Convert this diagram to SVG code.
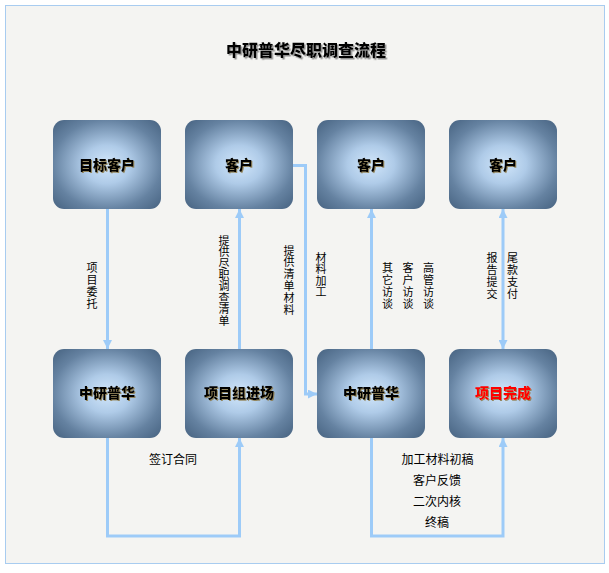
<svg xmlns="http://www.w3.org/2000/svg" width="609" height="573" viewBox="0 0 609 573">
<style>
.nd{fill:url(#g);}
.nl{font-family:"Noto Sans CJK SC","Noto Sans",sans-serif;font-size:14px;font-weight:900;text-anchor:middle;fill:#000;filter:url(#sh);}
.lb{font-family:"Noto Sans CJK SC","Noto Sans",sans-serif;font-size:12px;text-anchor:middle;fill:#000;}
.vl{font-family:"Noto Sans CJK SC","Noto Sans",sans-serif;font-size:11px;fill:#000;writing-mode:vertical-rl;letter-spacing:1px;}
.cn{fill:none;stroke:#9DCBF8;stroke-width:3;}
.title{font-family:"Noto Sans CJK SC","Noto Sans",sans-serif;font-size:16px;font-weight:900;text-anchor:middle;fill:#000;filter:url(#tsh);}
</style>
<defs>
<radialGradient id="g" cx="0.5" cy="0.5" r="0.72">
<stop offset="0" stop-color="#D2E7FB"/>
<stop offset="0.3" stop-color="#AFCBE8"/>
<stop offset="0.7" stop-color="#6582A1"/>
<stop offset="1" stop-color="#44607E"/>
</radialGradient>
<filter id="sh" x="-10%" y="-20%" width="130%" height="150%">
<feDropShadow dx="1" dy="1" stdDeviation="0.3" flood-color="#8a7440" flood-opacity="0.8"/>
</filter>
<filter id="tsh" x="-10%" y="-20%" width="130%" height="150%">
<feDropShadow dx="1.5" dy="1.5" stdDeviation="0.5" flood-color="#666" flood-opacity="0.7"/>
</filter>
<marker id="ah" viewBox="0 0 10 10" refX="10" refY="5" markerWidth="3" markerHeight="3" orient="auto-start-reverse" markerUnits="strokeWidth">
<path d="M0,0 L10,5 L0,10 z" fill="#9DCBF8"/>
</marker>
</defs>
<rect x="0" y="0" width="609" height="573" fill="#fff"/>
<rect x="5.5" y="5.5" width="599" height="558" fill="#F4F4F2" stroke="#A8CCF0" stroke-width="1"/>
<text class="title" x="306" y="56">中研普华尽职调查流程</text>

<g id="connectors">
<path class="cn" d="M107.5,209 V349" marker-end="url(#ah)"/>
<path class="cn" d="M239.5,349 V209" marker-end="url(#ah)"/>
<path class="cn" d="M293,165.5 H305.5 V394 H317" marker-end="url(#ah)"/>
<path class="cn" d="M371.5,349 V209" marker-end="url(#ah)"/>
<path class="cn" d="M503,209 V349" marker-start="url(#ah)" marker-end="url(#ah)"/>
<path class="cn" d="M107.5,438 V536 H239.5 V438" marker-end="url(#ah)"/>
<path class="cn" d="M371.5,438 V536 H503 V438" marker-end="url(#ah)"/>
<text class="vl" x="92" y="262">项目委托</text>
<text class="vl" x="224" y="235" style="letter-spacing:0.45px">提供尽职调查清单</text>
<text class="vl" x="289" y="245" style="letter-spacing:0.8px">提供清单材料</text>
<text class="vl" x="321" y="252" style="letter-spacing:0.5px">材料加工</text>
<text class="vl" x="387.5" y="262">其它访谈</text>
<text class="vl" x="408" y="262">客户访谈</text>
<text class="vl" x="428.5" y="262">高管访谈</text>
<text class="vl" x="492" y="252">报告提交</text>
<text class="vl" x="512.5" y="252">尾款支付</text>
<text class="lb" x="173" y="464">签订合同</text>
<text class="lb" x="437.5" y="463.5">加工材料初稿</text>
<text class="lb" x="437" y="485">客户反馈</text>
<text class="lb" x="437" y="506">二次内核</text>
<text class="lb" x="437" y="526.5">终稿</text>
</g>

<g id="n1"><rect class="nd" x="53" y="120" width="108" height="89" rx="11"/><text class="nl" x="107" y="169.5">目标客户</text></g>
<g id="n2"><rect class="nd" x="185" y="120" width="108" height="89" rx="11"/><text class="nl" x="239" y="169.5">客户</text></g>
<g id="n3"><rect class="nd" x="317" y="120" width="108" height="89" rx="11"/><text class="nl" x="371" y="169.5">客户</text></g>
<g id="n4"><rect class="nd" x="449" y="120" width="108" height="89" rx="11"/><text class="nl" x="503" y="169.5">客户</text></g>
<g id="n5"><rect class="nd" x="53" y="349" width="108" height="89" rx="11"/><text class="nl" x="107" y="397.5">中研普华</text></g>
<g id="n6"><rect class="nd" x="185" y="349" width="108" height="89" rx="11"/><text class="nl" x="239" y="397.5">项目组进场</text></g>
<g id="n7"><rect class="nd" x="317" y="349" width="108" height="89" rx="11"/><text class="nl" x="371" y="397.5">中研普华</text></g>
<g id="n8"><rect class="nd" x="449" y="349" width="108" height="89" rx="11"/><text class="nl" x="503" y="397.5" style="fill:#FF0000">项目完成</text></g>
</svg>
